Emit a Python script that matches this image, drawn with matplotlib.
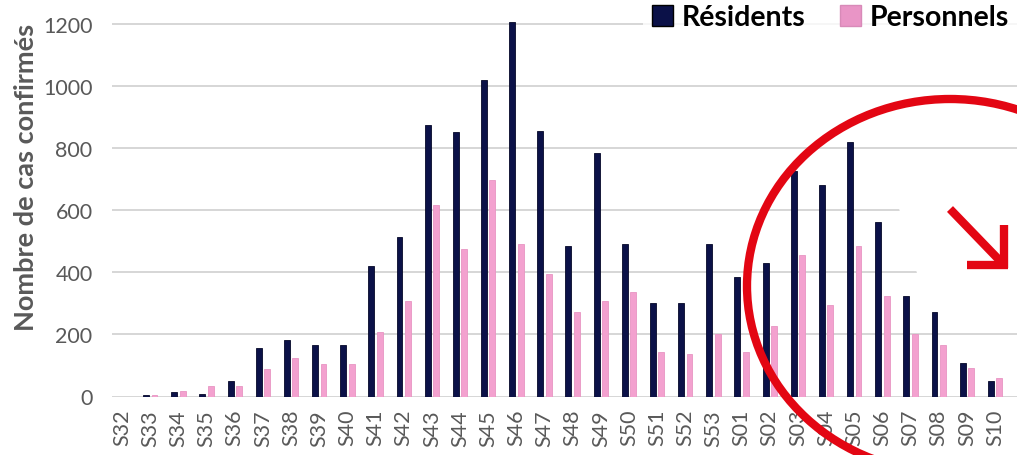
import numpy as np
import matplotlib
matplotlib.use("Agg")
import matplotlib.pyplot as plt
from matplotlib.patches import Ellipse, Polygon, Patch
from matplotlib.lines import Line2D

plt.rcParams['font.family'] = ['Lato', 'DejaVu Sans']

# weekly confirmed cases
weeks = ['S32', 'S33', 'S34', 'S35', 'S36', 'S37', 'S38', 'S39', 'S40', 'S41',
         'S42', 'S43', 'S44', 'S45', 'S46', 'S47', 'S48', 'S49', 'S50', 'S51',
         'S52', 'S53', 'S01', 'S02', 'S03', 'S04', 'S05', 'S06', 'S07', 'S08',
         'S09', 'S10']
residents = [0, 5, 13, 9, 50, 157, 183, 166, 166, 420,
             513, 875, 850, 1019, 1206, 853, 483, 782, 491, 300,
             300, 491, 385, 429, 725, 679, 818, 563, 322, 273,
             107, 49]
personnels = [0, 5, 18, 35, 35, 89, 124, 104, 104, 206,
              308, 617, 475, 697, 491, 393, 273, 308, 335, 144,
              138, 200, 142, 227, 455, 294, 483, 322, 200, 165,
              93, 58]

navy = '#0b1148'
pink = '#f3a1cf'
grey = '#595959'

W, H = 1017, 456
fig = plt.figure(figsize=(W / 100, H / 100), dpi=100)
ax = fig.add_axes([112 / W, 1 - 397.5 / H, 1 - 112 / W, (397.5 - 18.3) / H])

x = np.arange(len(weeks))
ax.bar(x - 0.15, residents, width=0.21, color=navy, edgecolor='#050828',
       linewidth=0.6, zorder=3)
ax.bar(x + 0.15, personnels, width=0.21, color=pink, edgecolor='#e895c3',
       linewidth=0.6, zorder=3)

ax.set_xlim(-0.36, 31.78)
ax.set_ylim(0, 1220)
ax.set_yticks(range(0, 1201, 200))
ax.yaxis.grid(True, color='#d0d0d0', linewidth=1.2, zorder=0)
ax.set_axisbelow(True)
for s in ['top', 'right', 'left', 'bottom']:
    ax.spines[s].set_visible(False)
ax.tick_params(axis='both', length=0, colors=grey, labelsize=15.5)
ax.tick_params(axis='y', pad=14)
ax.tick_params(axis='x', pad=9)
ax.set_xticks(x)
ax.set_xticklabels(weeks, rotation=90)
ax.set_ylabel('Nombre de cas confirmés', fontsize=19.5, fontweight='bold',
              color=grey)
ax.yaxis.set_label_coords(-0.082, 0.58)

# white patch behind the arrow that hides part of the gridlines
fig.add_artist(Polygon([(895 / W, 1 - 195 / H), (1, 1 - 195 / H),
                        (1, 1 - 285 / H), (920 / W, 1 - 285 / H)],
                       closed=True, facecolor='white', edgecolor='none',
                       transform=fig.transFigure, zorder=4))

handles = [Patch(facecolor=navy, edgecolor='#000000'),
           Patch(facecolor='#e995c6', edgecolor='#d88ab8')]
leg = fig.legend(handles, ['Résidents', 'Personnels'], loc='upper right',
                 bbox_to_anchor=(1.006, 1.02), ncol=2, frameon=True,
                 prop={'weight': 'bold', 'size': 20.5}, handlelength=0.75,
                 handleheight=0.75, handletextpad=0.3, columnspacing=1.2,
                 borderpad=0.3, borderaxespad=0.2, fancybox=False)
leg.get_frame().set_edgecolor('none')
leg.get_frame().set_facecolor('white')
leg.set_zorder(5)

# red circle and arrow drawn over the chart
red = '#e30613'
fig.add_artist(Ellipse((950 / W, 1 - 287 / H), 2 * 203 / W, 2 * 187 / H,
                       transform=fig.transFigure, fill=False, edgecolor=red,
                       linewidth=6, zorder=6))
arrow_pts = [((950, 210), (1005, 267)),
             ((967, 266), (1008, 266)),
             ((1004, 226), (1004, 269))]
for (x0, y0), (x1, y1) in arrow_pts:
    fig.add_artist(Line2D([x0 / W, x1 / W], [1 - y0 / H, 1 - y1 / H],
                          transform=fig.transFigure, color=red,
                          linewidth=6, zorder=6, solid_capstyle='butt'))

fig.savefig('out.png', dpi=100)
